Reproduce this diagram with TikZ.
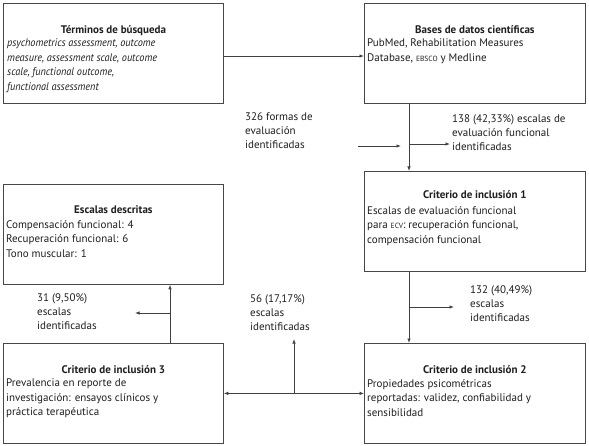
\documentclass[tikz,border=0pt]{standalone}
\usepackage{fontspec}
\setmainfont{PT Sans}
\usetikzlibrary{arrows.meta,calc}
\newcommand{\smc}[1]{{\fontsize{7.5}{9}\selectfont #1}}
\begin{document}
\begin{tikzpicture}[x=1pt,y=-1pt,
  box/.style={draw=black!72, line width=0.8pt, minimum height=100pt, inner sep=0pt, anchor=north west},
  lbox/.style={box, minimum width=220pt},
  rbox/.style={box, minimum width=221pt},
  ttl/.style={anchor=base, inner sep=0pt, font=\fontsize{11}{14.5}\selectfont\bfseries, text=black!88},
  body/.style={anchor=north west, inner sep=0pt, align=left, font=\fontsize{11}{14.5}\selectfont, text=black!88},
  lbl/.style={anchor=north west, inner sep=0pt, align=left, font=\fontsize{11}{14}\selectfont, text=black!88},
  arr/.style={draw=black!75, line width=0.8pt, -{Latex[length=4.5pt,width=3.5pt]}},
  arrb/.style={draw=black!75, line width=0.8pt, {Latex[length=4.5pt,width=3.5pt]}-{Latex[length=4.5pt,width=3.5pt]}}
]
\path[fill=white] (0,0) rectangle (589,446);
\useasboundingbox (0,0) rectangle (589,446);

% boxes
\node[lbox] (t) at (3,3) {};
\node[rbox] (b) at (364,3) {};
\node[rbox] (c1) at (364,171) {};
\node[lbox] (e) at (3,184) {};
\node[lbox] (c3) at (3,343) {};
\node[rbox] (c2) at (364,343) {};

% titles
\node[ttl] (tt) at ($(t.north)+(0,31)$) {Términos de búsqueda};
\node[ttl] (bt) at ($(b.north)+(0,31)$) {Bases de datos científicas};
\node[ttl] (c1t) at ($(c1.north)+(0,28)$) {Criterio de inclusión 1};
\node[ttl] (et) at ($(e.north)+(0,30)$) {Escalas descritas};
\node[ttl] (c3t) at ($(c3.north)+(0,30)$) {Criterio de inclusión 3};
\node[ttl] (c2t) at ($(c2.north)+(0,30)$) {Criterio de inclusión 2};

% bodies
\node[body, font=\fontsize{11}{14.5}\selectfont\itshape\addfontfeatures{FakeStretch=0.93}] (tb) at ($(t.north west)+(4,36)$) {psychometrics assessment, outcome\\measure, assessment scale, outcome\\scale, functional outcome,\\functional assessment};
\node[body] (bb) at ($(b.north west)+(3,36)$) {PubMed, Rehabilitation Measures\\Database, \smc{EBSCO} y Medline};
\node[body] (c1b) at ($(c1.north west)+(3,35)$) {Escalas de evaluación funcional\\para \smc{ECV}: recuperación funcional,\\compensación funcional};
\node[body] (eb) at ($(e.north west)+(3,36)$) {Compensación funcional: 4\\Recuperación funcional: 6\\Tono muscular: 1};
\node[body] (c3b) at ($(c3.north west)+(3,36)$) {Prevalencia en reporte de\\investigación: ensayos clínicos y\\práctica terapéutica};
\node[body] (c2b) at ($(c2.north west)+(3,36)$) {Propiedades psicométricas\\reportadas: validez, confiabilidad y\\sensibilidad};

% labels
\node[lbl] (l326) at (245,112) {326 formas de\\evaluación\\identificadas};
\node[lbl] (l138) at (452,114) {138 (42,33\%) escalas de\\evaluación funcional\\identificadas};
\node[lbl] (l31) at (37,293) {31 (9,50\%)\\escalas\\identificadas};
\node[lbl] (l56) at (250,294) {56 (17,17\%)\\escalas\\identificadas};
\node[lbl] (l132) at (470,285) {132 (40,49\%)\\escalas\\identificadas};

% coordinates
\coordinate (hy) at (0,56);
\coordinate (vx) at (409,0);
\coordinate (lx) at (170,0);
\coordinate (p1) at (358,146);
\coordinate (p2) at (401,146);
\coordinate (s1) at (409,144);
\coordinate (s1e) at (450,144);
\coordinate (s2) at (409,307);
\coordinate (s2e) at (454,307);
\coordinate (s3) at (170,313);
\coordinate (s3e) at (135,313);
\coordinate (s4) at (294,393);
\coordinate (s4e) at (294,339);

% connectors
\draw[arr] (t.east |- hy) -- (b.west |- hy);
\draw[arr] (b.south -| vx) -- (c1.north -| vx);
\draw[arr] (p1) -- (p2);
\draw[arr] (s1) -- (s1e);
\draw[arr] (c1.south -| vx) -- (c2.north -| vx);
\draw[arr] (s2) -- (s2e);
\draw[arr] (c3.north -| lx) -- (e.south -| lx);
\draw[arr] (s3) -- (s3e);
\draw[arrb] (c3.east) -- (c2.west);
\draw[arr] (s4) -- (s4e);
\end{tikzpicture}
\end{document}
